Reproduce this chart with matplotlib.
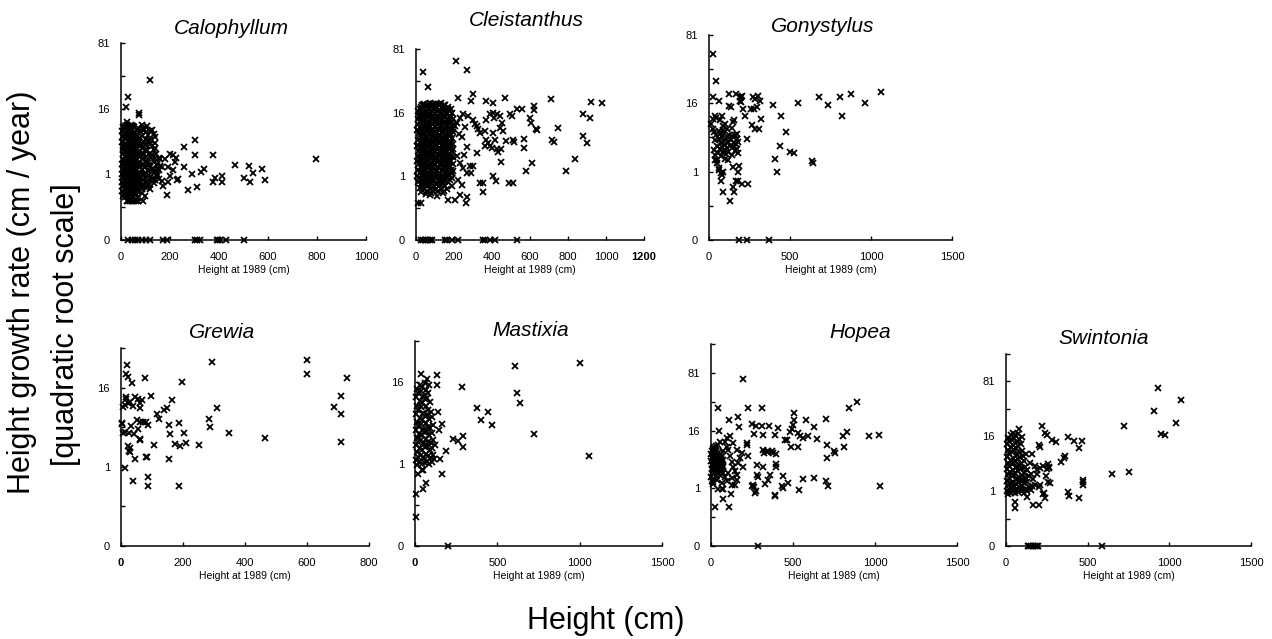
import numpy as np
import matplotlib
matplotlib.use("Agg")
import matplotlib.pyplot as plt

plt.rcParams['font.family'] = ['Liberation Sans', 'DejaVu Sans']

# ---------------- data: (height at 1989 [cm], height growth rate [cm/year]) ----------------
calophyllum = [
    (118, 35), (30, 22.5), (20, 17), (23, 10.3), (74, 14), (75, 13),
    (91, 8.4), (125, 8.0), (135, 6.7), (140, 3.9), (160, 2.3), (160, 1.6), (173, 0.45), (187, 0.22),
    (193, 0.6), (200, 2.9), (214, 2.8), (220, 2.0), (226, 2.4), (234, 0.75), (228, 0.7), (259, 4.0),
    (259, 1.5), (289, 1.0), (302, 5.3), (300, 2.86), (310, 0.43), (275, 0.33), (325, 1.12), (340, 1.36),
    (375, 2.86), (375, 0.6), (385, 0.78), (414, 0.92), (414, 0.6), (466, 1.7), (500, 0.78), (524, 1.63),
    (527, 0.6), (540, 1.08), (575, 1.36), (588, 0.69), (797, 2.29),
    (78, 5.8), (84, 4.3), (98, 3.5), (112, 5.1), (125, 2.8), (110, 1.9), (146, 1.8), (153, 1.36),
    (166, 1.5), (146, 1.0), (125, 0.75), (105, 0.45), (118, 0.35), (84, 0.27), (98, 0.2), (71, 0.16),
    (180, 2.37), (193, 1.5), (214, 1.26), (200, 0.92), (166, 0.66),
    (23, 0.12), (30, 0.12), (37, 0.12), (45, 0.12), (52, 0.12), (62, 0.12), (70, 0.12), (91, 0.12),
    (5, 0.3), (4, 0.6), (6, 1.0), (5, 1.8), (7, 3.0), (5, 5.0), (6, 7.5),
    (9, 0.2), (10, 0.45), (8, 0.8), (9, 1.3), (11, 2.2), (9, 3.6), (10, 6.0), (8, 8.8),
    (13, 0.25), (14, 0.5), (12, 0.9), (13, 1.5), (15, 2.5), (13, 4.2), (12, 6.8),
    (17, 0.18), (18, 0.35), (16, 0.7), (17, 1.1), (19, 1.9), (17, 3.2), (16, 5.5), (18, 9.0),
    (21, 0.3), (22, 0.6), (20, 1.0), (21, 1.7), (23, 2.8), (21, 4.6), (22, 7.8),
    (25, 0.2), (26, 0.42), (24, 0.8), (25, 1.3), (27, 2.1), (25, 3.5), (24, 6.2), (26, 9.3),
    (30, 0.28), (31, 0.55), (29, 0.95), (30, 1.6), (32, 2.6), (30, 4.3), (29, 7.0),
    (34, 0.19), (35, 0.4), (33, 0.75), (34, 1.2), (36, 2.0), (34, 3.3), (33, 5.4), (35, 8.6),
    (38, 0.3), (39, 0.6), (37, 1.05), (38, 1.8), (40, 3.0), (38, 4.9), (37, 7.6),
    (42, 0.22), (43, 0.45), (41, 0.85), (42, 1.4), (44, 2.3), (42, 3.8), (41, 6.3), (43, 9.2),
    (46, 0.32), (47, 0.65), (45, 1.1), (46, 1.9), (48, 3.1), (46, 5.2), (45, 8.0),
    (50, 0.2), (51, 0.5), (49, 0.9), (50, 1.5), (52, 2.5), (50, 4.1), (49, 6.7),
    (55, 0.35), (56, 0.7), (54, 1.2), (55, 2.0), (57, 3.4), (55, 5.6), (54, 8.9),
    (60, 0.25), (61, 0.55), (59, 1.0), (60, 1.7), (62, 2.8), (60, 4.6), (59, 7.2),
    (65, 0.4), (66, 0.8), (64, 1.3), (65, 2.2), (67, 3.7), (65, 6.0),
    (70, 0.3), (71, 0.65), (69, 1.1), (70, 1.9), (72, 3.2), (70, 5.3), (69, 8.4),
    (78, 0.45), (79, 0.9), (77, 1.6), (78, 2.7), (80, 4.5), (78, 7.5),
    (85, 0.35), (86, 0.7), (84, 1.3), (85, 2.3), (87, 3.9), (85, 6.4), (84, 9.5),
    (92, 0.5), (93, 1.0), (91, 1.8), (92, 3.0), (94, 5.0), (92, 8.0),
    (100, 0.4), (101, 0.8), (99, 1.5), (100, 2.6), (102, 4.4), (100, 7.2),
    (108, 0.6), (109, 1.2), (107, 2.1), (108, 3.6), (110, 6.5), (108, 9.0),
    (115, 0.5), (116, 0.95), (114, 1.7), (115, 3.0), (117, 5.3),
    (125, 0.7), (126, 1.4), (124, 2.5), (125, 4.2),
    (135, 0.55), (136, 1.1), (134, 2.0), (135, 3.5), (137, 6.0),
    (145, 0.9), (146, 1.7), (144, 3.0),
    (155, 0.75), (156, 1.3), (154, 2.4),
    (7, 0.45), (7, 1.35), (7, 2.3), (7, 4.0), (7, 6.2),
    (15, 0.35), (15, 0.65), (15, 1.2), (15, 2.0), (15, 3.4), (15, 5.8), (15, 8.5),
    (23, 0.26), (23, 0.48), (23, 0.85), (23, 1.4), (23, 2.4), (23, 3.9), (23, 6.5), (23, 9.4),
    (32, 0.35), (32, 0.7), (32, 1.25), (32, 2.1), (32, 3.6), (32, 5.9), (32, 8.9),
    (40, 0.25), (40, 0.5), (40, 0.9), (40, 1.5), (40, 2.5), (40, 4.2), (40, 6.8), (40, 9.4),
    (48, 0.4), (48, 0.75), (48, 1.3), (48, 2.2), (48, 3.6), (48, 5.9), (48, 9.0),
    (57, 0.28), (57, 0.55), (57, 0.95), (57, 1.6), (57, 2.6), (57, 4.3), (57, 7.0),
    (67, 0.3), (67, 0.6), (67, 1.0), (67, 1.7), (67, 2.9), (67, 4.8), (67, 7.8),
    (75, 0.55), (75, 1.0), (75, 1.8), (75, 3.0), (75, 5.0),
    (88, 0.5), (88, 0.95), (88, 1.7), (88, 2.9), (88, 4.9), (88, 7.8),
    (104, 0.6), (104, 1.1), (104, 2.0), (104, 3.4), (104, 5.6),
    (120, 0.8), (120, 1.5), (120, 2.6), (120, 4.5), (120, 7.5),
    (140, 0.7), (140, 1.3), (140, 2.4), (140, 4.7),
]
calophyllum_zero = [30, 44, 57, 71, 84, 104, 119, 173, 189, 302, 311, 322, 390, 397, 403, 428, 500]

cleistanthus = [
    (210, 62), (35, 49), (266, 51), (61, 33), (301, 28), (219, 24.6), (289, 22.7), (371, 22.7),
    (403, 21.7), (471, 25), (709, 24), (923, 22), (979, 21.3), (622, 19.6), (622, 17.3), (559, 17.7),
    (529, 17.7), (497, 15.1), (599, 13.6), (606, 11.5), (634, 9.2), (637, 9.0), (748, 9.6), (879, 15.1),
    (914, 13.6), (877, 7.1), (898, 5.5), (718, 6.2), (727, 5.7), (569, 6.4), (569, 4.4), (511, 6.2),
    (515, 5.6), (476, 5.8), (445, 4.1), (447, 2.3), (490, 0.66), (511, 0.66), (420, 0.75), (403, 1.04),
    (354, 0.63), (354, 0.33), (581, 1.4), (613, 2.1), (792, 1.36), (835, 2.6), (503, 14.2),
    (12, 0.12), (26, 0.12),
    (310, 11), (319, 10.3), (327, 9.2), (336, 8), (298, 12.8), (275, 14.5), (249, 15.1), (231, 13.6),
    (214, 11.5), (205, 10.3), (196, 9.2), (179, 5.5), (196, 4.1), (214, 3.0), (231, 2.14), (249, 1.63),
    (266, 1.22), (284, 1.8), (187, 1.22), (222, 0.81), (240, 0.57), (266, 0.21), (231, 0.25), (205, 0.16),
    (187, 0.5), (170, 0.16), (263, 0.12), (363, 8.5), (371, 6.2), (380, 5.5), (389, 4.7), (398, 4.4),
    (406, 8), (415, 6.2), (424, 4.1), (433, 3.7), (363, 4.7), (371, 12.8), (389, 15.1), (403, 16),
    (412, 13.6), (424, 15.1), (441, 14.5), (450, 11.5), (441, 9.6), (459, 8.5), (301, 1.8), (319, 3.5),
    (336, 0.63), (292, 1.22), (240, 6.8), (258, 9.8), (225, 7.7), (270, 4.6), (250, 3.2),
    (5, 1.0), (5, 2.4), (6, 4.8), (4, 9.0),
    (12, 0.7), (13, 1.5), (11, 3.0), (12, 6.0), (13, 11), (12, 17),
    (20, 0.45), (21, 1.2), (19, 2.5), (20, 4.4), (22, 7.4), (20, 12), (21, 18),
    (28, 0.32), (29, 0.8), (27, 1.75), (28, 3.3), (30, 5.8), (28, 9.4), (27, 14.5), (29, 20),
    (35, 0.5), (36, 1.2), (34, 2.4), (35, 4.4), (37, 7.4), (35, 11.7), (34, 17.7),
    (42, 0.4), (43, 1.0), (41, 2.1), (42, 3.9), (44, 6.5), (42, 10.5), (41, 16), (43, 21),
    (50, 0.28), (51, 0.66), (49, 1.46), (50, 2.86), (52, 5.06), (50, 8.35), (49, 13), (51, 19),
    (58, 0.35), (59, 0.85), (57, 1.8), (58, 3.4), (60, 5.9), (58, 9.6), (57, 14.8), (59, 20.5),
    (65, 0.55), (66, 1.25), (64, 2.5), (65, 4.5), (67, 7.6), (65, 12), (64, 18),
    (72, 0.25), (73, 0.42), (71, 1.05), (72, 2.15), (74, 4.0), (72, 6.6), (71, 10.8), (73, 16.5), (72, 21.5),
    (80, 0.3), (81, 0.68), (79, 1.5), (80, 2.9), (82, 5.1), (80, 8.5), (79, 13.3), (81, 19.5),
    (88, 0.36), (89, 0.83), (87, 1.78), (88, 3.35), (90, 5.8), (88, 9.4), (87, 14.6), (89, 20.2),
    (95, 0.5), (96, 1.2), (94, 2.45), (95, 4.45), (97, 7.45), (95, 11.8), (94, 17.8),
    (102, 0.38), (103, 1.0), (101, 2.05), (102, 3.85), (104, 6.45), (102, 10.4), (101, 15.8), (103, 21),
    (110, 0.22), (111, 0.62), (109, 1.42), (110, 2.8), (112, 5.0), (110, 8.3), (109, 12.9), (111, 19),
    (118, 0.34), (119, 0.8), (117, 1.72), (118, 3.3), (120, 5.75), (118, 9.3), (117, 14.4), (119, 20),
    (125, 0.55), (126, 1.24), (124, 2.46), (125, 4.4), (127, 7.4), (125, 11.6), (124, 17.6),
    (132, 0.42), (133, 1.02), (131, 2.1), (132, 3.92), (134, 6.52), (132, 10.5), (131, 16.1), (133, 21.2),
    (140, 0.3), (141, 0.68), (139, 1.48), (140, 2.88), (142, 5.1), (140, 8.4), (139, 13.1), (141, 19.2),
    (148, 0.36), (149, 0.82), (147, 1.76), (148, 3.34), (150, 5.8), (148, 9.4), (147, 14.5), (149, 20),
    (155, 0.52), (156, 1.22), (154, 2.44), (155, 4.42), (157, 7.41), (155, 11.7), (154, 17.7),
    (162, 0.4), (163, 1.0), (161, 2.1), (162, 3.9), (164, 6.5), (162, 10.5), (161, 16),
    (170, 0.7), (171, 1.5), (169, 2.9), (170, 5.1), (172, 8.4), (170, 13.1), (169, 19),
    (178, 0.8), (179, 1.8), (177, 3.3), (178, 5.8), (180, 9.4), (178, 14.5),
    (185, 1.2), (186, 2.4), (184, 4.4), (185, 7.4), (187, 11.7), (185, 17.7),
    (192, 0.9), (193, 2.0), (191, 3.9), (192, 6.5), (194, 10.5), (192, 16),
    (8, 1.46), (8, 5.06), (8, 13),
    (16, 0.9), (16, 2.0), (16, 3.9), (16, 8.0), (16, 14.5),
    (24, 0.6), (24, 1.4), (24, 2.86), (24, 5.1), (24, 8.6), (24, 13.3), (24, 19),
    (32, 1.0), (32, 2.0), (32, 3.8), (32, 6.6), (32, 10.8), (32, 16.5),
    (39, 0.65), (39, 1.5), (39, 2.9), (39, 5.2), (39, 8.4), (39, 13), (39, 20.5),
    (46, 0.9), (46, 1.85), (46, 3.5), (46, 6.0), (46, 9.8), (46, 15),
    (54, 1.1), (54, 2.2), (54, 4.1), (54, 7.0), (54, 11.2), (54, 17),
    (62, 0.7), (62, 1.6), (62, 3.1), (62, 5.4), (62, 8.9), (62, 13.8), (62, 21),
    (69, 0.95), (69, 1.95), (69, 3.6), (69, 6.2), (69, 10), (69, 15.5),
    (76, 0.55), (76, 1.35), (76, 2.7), (76, 4.8), (76, 7.9), (76, 12.4), (76, 18.5),
    (84, 1.05), (84, 2.1), (84, 3.95), (84, 6.8), (84, 10.9), (84, 16.8),
    (91, 0.72), (91, 1.6), (91, 3.1), (91, 5.4), (91, 8.9), (91, 13.8), (91, 20.8),
    (98, 0.95), (98, 1.9), (98, 3.6), (98, 6.1), (98, 10), (98, 15.3),
    (106, 0.6), (106, 1.3), (106, 2.6), (106, 4.7), (106, 7.8), (106, 12.2), (106, 18.3),
    (114, 1.1), (114, 2.2), (114, 4.1), (114, 7.0), (114, 11.1), (114, 17),
    (121, 0.7), (121, 1.6), (121, 3.1), (121, 5.4), (121, 8.8), (121, 13.7), (121, 20.6),
    (128, 0.95), (128, 1.95), (128, 3.7), (128, 6.3), (128, 10.1), (128, 15.4),
    (136, 0.58), (136, 1.35), (136, 2.65), (136, 4.75), (136, 7.9), (136, 12.3), (136, 18.5),
    (144, 1.05), (144, 2.1), (144, 4.0), (144, 6.8), (144, 10.9), (144, 16.6),
    (151, 0.72), (151, 1.6), (151, 3.1), (151, 5.4), (151, 8.9), (151, 13.8), (151, 20),
    (158, 0.95), (158, 1.9), (158, 3.6), (158, 6.2), (158, 10), (158, 15.2),
    (166, 1.2), (166, 2.5), (166, 4.6), (166, 7.7), (166, 12.1), (166, 18),
    (174, 1.1), (174, 2.2), (174, 4.1), (174, 7.0), (174, 11.2), (174, 17),
    (182, 1.5), (182, 3.1), (182, 5.4), (182, 8.9), (182, 13.8),
    (196, 1.4), (196, 2.9), (196, 5.2), (196, 8.4), (196, 13),
]
cleistanthus_zero = [26, 35, 45, 55, 65, 75, 82, 152, 165, 187, 222, 354, 365, 389, 415, 529]

gonystylus = [
    (23, 55), (43, 29), (27, 19), (64, 17.3), (10, 8.4), (23, 9.8), (37, 11), (43, 10.3), (27, 6.9),
    (30, 6.2), (68, 9.4), (78, 11), (99, 8.2), (88, 7.8), (125, 21), (125, 14.8), (133, 14.2), (154, 9.4),
    (146, 9.0), (166, 21), (191, 19.4), (197, 19), (201, 19.6), (191, 17), (196, 16.5), (222, 11),
    (234, 4.7), (212, 13.6), (257, 13.6), (273, 19.4), (283, 18), (294, 14.2), (279, 13.6), (304, 19.6),
    (314, 17), (263, 8), (283, 6.9), (308, 6.9), (320, 9.8), (392, 15.1), (444, 11), (474, 6.2),
    (438, 3.6), (407, 1.94), (499, 2.7), (524, 2.6), (547, 16), (637, 1.8), (639, 1.63), (680, 19.4),
    (736, 15.4), (808, 19.4), (818, 10.7), (875, 20.6), (962, 16.3), (1064, 22.2), (417, 1.0),
    (37, 1.87), (47, 1.6), (64, 1.26), (74, 0.92), (88, 0.97), (74, 0.57), (88, 0.24), (129, 0.11),
    (154, 0.25), (146, 0.35), (164, 0.57), (177, 0.55), (201, 0.45), (187, 1.4), (177, 0.96), (238, 0.45),
    (150, 1.3), (60, 1.1), (80, 0.8),
    (30, 3.0), (35, 4.5), (40, 2.4), (45, 5.5), (50, 3.6), (55, 2.6), (60, 4.8), (65, 3.2), (70, 5.8),
    (72, 2.3), (75, 4.0), (80, 3.4), (82, 5.2), (85, 2.7), (90, 4.4), (92, 3.0), (95, 6.0), (100, 3.8),
    (102, 2.5), (105, 5.0), (110, 3.3), (115, 4.2), (120, 2.8), (125, 5.6), (130, 3.6), (135, 4.6),
    (140, 2.4), (145, 5.3), (150, 3.5), (155, 4.1), (158, 2.9), (160, 5.5), (165, 3.9), (170, 4.7),
    (172, 3.1), (175, 5.8), (180, 4.3), (178, 2.6), (62, 6.5), (88, 6.8), (110, 7.0), (140, 7.2),
    (52, 1.9), (115, 1.9), (98, 2.0),
]
gonystylus_zero = [185, 232, 370]

grewia = [
    (18, 27), (15, 22), (24, 20.5), (34, 18), (77, 20.3), (196, 18.4), (295, 29.4), (599, 30.4),
    (599, 22), (728, 20.3), (709, 13), (687, 9.6), (709, 7.6), (709, 2.94), (465, 3.5), (349, 4.2),
    (309, 9.2), (284, 6.7), (287, 5.06), (253, 2.6), (210, 2.9), (189, 2.5), (174, 2.8), (204, 4.2),
    (186, 5.9), (158, 3.96), (154, 5.4), (163, 11.7), (147, 9.2), (139, 8.8), (123, 6.7), (115, 7.8),
    (96, 12.8), (106, 2.6), (155, 1.45), (187, 0.34), (88, 0.58), (88, 0.34), (38, 0.45), (13, 0.92),
    (45, 1.46), (80, 1.63), (83, 1.63), (27, 2.1), (29, 2.0), (24, 2.5), (61, 3.2), (43, 3.96),
    (26, 4.2), (13, 4.3), (2, 5.9), (2, 5.6), (5, 4.2), (31, 5.2), (56, 4.7), (61, 6.1), (72, 6.1),
    (80, 6.1), (86, 5.5), (53, 6.4), (40, 9.8), (24, 10.5), (29, 10.8), (16, 12), (16, 12.5), (5, 9.4),
    (45, 12.5), (56, 12), (61, 10.5), (61, 9.2), (69, 11.7), (13, 10), (30, 2.3), (62, 3.3),
]
grewia_zero = []

mastixia = [
    (1001, 24.7), (610, 23.4), (617, 12), (637, 9.2), (283, 14.2), (374, 8.1), (445, 7.2), (400, 5.6),
    (469, 4.8), (724, 3.5), (1057, 1.47), (228, 2.94), (263, 2.7), (289, 3.2), (289, 2.16), (188, 1.8),
    (152, 1.27), (166, 0.6), (141, 7.2), (162, 4.95), (146, 3.96), (131, 14.7), (135, 18.7), (34, 19.2),
    (75, 17.3), (4, 0.16), (4, 0.015), (51, 0.23), (67, 0.34), (16, 0.6), (40, 0.72), (51, 0.72),
    (5, 1.2), (6, 2.3), (4, 4.0), (5, 6.8), (6, 11),
    (12, 0.95), (13, 1.7), (11, 3.0), (12, 5.2), (13, 8.6), (12, 13.5),
    (20, 1.4), (21, 2.6), (19, 4.6), (20, 7.5), (21, 12),
    (28, 1.1), (29, 2.0), (27, 3.5), (28, 6.0), (29, 9.8), (28, 15),
    (35, 1.5), (36, 2.8), (34, 4.9), (35, 8.2), (36, 12.8),
    (42, 1.0), (43, 1.9), (41, 3.3), (42, 5.6), (43, 9.2), (42, 14),
    (50, 1.3), (51, 2.4), (49, 4.2), (50, 7.0), (51, 11.3),
    (58, 1.05), (59, 2.1), (57, 3.7), (58, 6.3), (59, 10.2), (58, 15.5),
    (65, 1.6), (66, 2.9), (64, 5.0), (65, 8.4), (66, 13),
    (72, 1.15), (73, 2.2), (71, 3.9), (72, 6.6), (73, 10.7),
    (80, 1.45), (81, 2.6), (79, 4.5), (80, 7.6), (81, 12.2),
    (88, 1.0), (89, 1.9), (87, 3.4), (88, 5.8), (89, 9.5), (88, 14.8),
    (95, 1.3), (96, 2.5), (94, 4.3), (95, 7.2),
    (102, 1.1), (103, 2.0), (101, 3.6), (102, 6.1),
    (110, 1.5), (111, 2.8), (109, 4.8),
    (118, 1.25), (119, 2.3),
]
mastixia_zero = [198]

hopea = [
    (193, 70.7), (45, 33), (224, 33), (309, 33), (112, 22.6), (167, 25.2), (171, 18), (49, 16),
    (248, 20.2), (275, 18.7), (313, 18.4), (356, 18.4), (407, 17.3), (263, 14.2), (320, 13.6), (391, 13.6),
    (509, 28), (509, 22.6), (503, 19.4), (493, 17), (479, 15.4), (580, 22.6), (625, 18), (589, 13.3),
    (533, 14.7), (540, 13.3), (560, 12.2), (533, 8.7), (452, 11.5), (462, 11.2), (486, 8.7), (649, 11.7),
    (702, 23.4), (706, 9.2), (710, 5.4), (757, 6.7), (753, 7.4), (812, 8.5), (802, 13.3), (832, 15),
    (843, 33), (890, 39), (961, 13), (1025, 13.6), (1028, 1.13), (702, 1.57), (716, 1.13), (629, 1.96),
    (558, 1.8), (538, 0.89), (468, 1.46), (431, 1.13), (437, 1.04), (391, 0.6), (393, 0.57), (442, 2.2),
    (397, 3.6), (397, 4.1), (397, 6.5), (380, 6.7), (370, 7.4), (350, 7.4), (340, 6.9), (320, 7.8),
    (326, 6.6), (360, 2.3), (350, 1.7), (330, 1.3), (315, 3.6), (289, 2.1), (283, 3.8), (263, 1.1),
    (259, 1.26), (269, 0.72), (275, 0.8), (248, 1.17), (279, 2.3), (218, 9.4), (218, 10.2), (228, 5.8),
    (85, 10.7), (96, 8.8), (106, 7.6), (116, 5.8), (126, 4.5), (137, 3.6), (147, 2.8), (157, 2.3),
    (167, 4.2), (177, 5.3), (187, 6.7), (197, 3.6), (157, 7.6), (137, 10), (116, 13), (100, 12.2),
    (55, 10.7), (45, 9.4), (75, 7.2), (65, 4.9), (75, 3.6), (106, 2.5), (126, 1.9), (96, 1.57),
    (65, 1.4), (35, 1.7), (85, 2.07), (157, 1.7),
    (24, 0.21), (112, 0.21), (75, 0.43), (122, 0.66), (45, 0.92), (65, 0.92), (75, 0.92), (130, 1.26),
    (146, 1.26),
    (3, 2.0), (4, 3.2), (2, 4.6), (3, 6.4),
    (8, 2.6), (9, 3.8), (7, 5.3), (8, 7.2),
    (13, 1.8), (14, 3.0), (12, 4.2), (13, 5.8), (14, 8.0),
    (18, 2.4), (19, 3.5), (17, 4.9), (18, 6.8),
    (23, 2.9), (24, 4.0), (22, 5.5), (23, 7.6),
    (28, 2.2), (29, 3.3), (27, 4.5), (28, 6.2),
    (33, 2.7), (34, 3.9), (32, 5.1), (33, 7.0),
    (38, 3.1), (39, 4.4), (37, 6.0),
    (44, 2.5), (45, 3.6), (43, 4.8), (44, 6.6),
    (50, 3.0), (51, 4.1), (49, 5.6),
    (56, 2.3), (57, 3.4), (55, 4.7), (56, 6.3),
    (62, 2.8), (63, 4.0), (61, 5.3),
    (68, 3.2), (69, 4.4), (67, 6.0),
    (75, 2.6), (76, 3.7), (74, 5.0),
    (5, 1.6), (10, 1.3), (15, 1.5), (20, 8.6), (30, 9.0),
]
hopea_zero = [285]

swintonia = [
    (933, 69), (1071, 50), (908, 37), (1039, 25), (951, 17.6), (973, 16.6), (722, 22.6), (751, 3.4),
    (647, 3.0), (473, 2.1), (473, 1.8), (473, 1.57), (447, 0.57), (382, 0.92), (386, 0.69), (447, 10.2),
    (418, 13.3), (463, 13.3), (382, 15.4), (361, 7.4), (355, 6.5), (337, 5.4), (304, 13), (280, 14.2),
    (239, 18), (249, 17), (218, 22.6), (204, 11.7), (208, 10.5), (161, 8), (192, 3.6), (208, 4.1),
    (229, 4.5), (259, 5.0), (265, 4.0), (249, 3.95), (245, 2.6), (269, 1.75), (255, 1.8), (261, 4.2),
    (224, 0.81), (239, 0.57), (233, 0.9), (208, 1.5), (204, 1.3), (157, 1.46), (178, 1.5), (167, 0.32),
    (204, 0.32), (192, 2.9), (127, 0.66), (55, 0.43), (55, 0.23),
    (5, 1.0), (6, 2.0), (4, 3.8), (5, 7.0), (6, 12),
    (12, 0.8), (13, 1.5), (11, 2.9), (12, 5.3), (13, 9.2), (12, 15),
    (20, 1.2), (21, 2.4), (19, 4.5), (20, 8.2), (21, 13.5),
    (28, 0.9), (29, 1.7), (27, 3.3), (28, 6.0), (29, 10.5), (28, 17),
    (35, 1.3), (36, 2.6), (34, 4.9), (35, 8.8), (36, 14),
    (42, 1.0), (43, 1.9), (41, 3.6), (42, 6.6), (43, 11.5), (42, 18),
    (50, 1.4), (51, 2.8), (49, 5.2), (50, 9.4), (51, 15),
    (58, 0.85), (59, 1.6), (57, 3.1), (58, 5.7), (59, 10), (58, 16.5),
    (65, 1.15), (66, 2.2), (64, 4.2), (65, 7.6), (66, 13),
    (72, 0.95), (73, 1.8), (71, 3.5), (72, 6.3), (73, 11), (72, 17.5),
    (80, 1.3), (81, 2.5), (79, 4.7), (80, 8.5), (81, 14.5), (80, 21),
    (88, 1.05), (89, 2.0), (87, 3.8), (88, 6.9), (89, 12),
    (95, 1.4), (96, 2.7), (94, 5.0), (95, 9.0), (96, 15.5),
    (102, 1.1), (103, 2.1), (101, 4.0), (102, 7.3),
    (110, 0.9), (111, 1.7), (109, 3.2), (110, 5.9),
    (120, 1.2), (121, 2.3), (119, 4.4), (120, 8.0),
    (130, 1.0), (131, 1.9), (129, 3.6),
    (140, 1.3), (141, 2.6), (145, 5.2),
    (150, 1.1), (151, 3.0), (165, 2.2), (175, 4.5),
]
swintonia_zero = [133, 143, 155, 165, 178, 190, 198, 590]

species = ["Calophyllum", "Cleistanthus", "Gonystylus", "Grewia", "Mastixia", "Hopea", "Swintonia"]
x_max = [1000, 1200, 1500, 800, 1500, 1500, 1500]
x_step = [200, 200, 500, 200, 500, 500, 500]
y_top = [81, 81, 81, 39.0625, 39.0625, 150.0625, 150.0625]
y_major = [0, 1, 16, 81]
y_major_labels = ["0", "1", "16", "81"]
y_minor = [0.0625, 5.0625, 39.0625, 150.0625]
all_points = [calophyllum, cleistanthus, gonystylus, grewia, mastixia, hopea, swintonia]
all_zeros = [calophyllum_zero, cleistanthus_zero, gonystylus_zero, grewia_zero,
             mastixia_zero, hopea_zero, swintonia_zero]

# ---------------- layout (pixel boxes: left, top, right, bottom) ----------------
W, H = 1272, 639
boxes = [(121, 43, 366, 240), (416, 49, 644, 240), (709, 35, 952, 240),
         (121, 348, 369, 546), (415, 341, 662, 546), (711, 344, 957, 546), (1006, 354, 1251, 546)]
title_pos = [(231, 29), (526, 20), (823, 27), (222, 333), (531, 330), (860, 333), (1104, 338)]
bold_xlabels = {1: [1200], 3: [0], 4: [0]}

fig = plt.figure(figsize=(W / 100, H / 100), dpi=100)


def fwd(y):
    return np.power(np.clip(y, 0, None), 0.25)


def inv(t):
    return np.power(np.clip(t, 0, None), 4)


for i, name in enumerate(species):
    l, t, r, b = boxes[i]
    ax = fig.add_axes([l / W, 1 - b / H, (r - l) / W, (b - t) / H])
    ax.set_yscale('function', functions=(fwd, inv))
    pts = all_points[i]
    xs = [p[0] for p in pts]
    ys = [p[1] for p in pts]
    ax.plot(xs, ys, 'x', color='black', ms=4.2, mew=1.3, clip_on=False, zorder=3)
    zs = all_zeros[i]
    if zs:
        ax.plot(zs, [0] * len(zs), 'x', color='black', ms=4.2, mew=1.3, clip_on=False, zorder=3)
    ax.set_xlim(0, x_max[i])
    ax.set_ylim(0, y_top[i])
    xt = list(range(0, x_max[i] + 1, x_step[i]))
    ax.set_xticks(xt)
    ax.set_xticklabels([str(v) for v in xt])
    for lab, v in zip(ax.get_xticklabels(), xt):
        if v in bold_xlabels.get(i, []):
            lab.set_fontweight('bold')
    maj = [v for v in y_major if v <= y_top[i] + 1e-9]
    ax.set_yticks(maj)
    ax.set_yticklabels(y_major_labels[:len(maj)])
    ax.set_yticks([v for v in y_minor if v <= y_top[i] + 1e-9], minor=True)
    ax.tick_params(axis='both', which='both', direction='in', length=3, width=1, colors='black')
    ax.tick_params(axis='x', labelsize=8, pad=9)
    ax.tick_params(axis='y', labelsize=8, pad=8)
    for s in ['top', 'right']:
        ax.spines[s].set_visible(False)
    for s in ['left', 'bottom']:
        ax.spines[s].set_linewidth(1.1)
    ax.set_xlabel('Height at 1989 (cm)', fontsize=7.5, labelpad=2)
    ax.patch.set_alpha(0)
    tx, ty = title_pos[i]
    fig.text(tx / W, 1 - ty / H, name, style='italic', fontsize=15, ha='center', va='center')

fig.text(22 / W, 1 - 292 / H, 'Height growth rate (cm / year)', rotation=90, fontsize=22,
         ha='center', va='center')
fig.text(66 / W, 1 - 325 / H, '[quadratic root scale]', rotation=90, fontsize=22,
         ha='center', va='center')
fig.text(606 / W, 1 - 621 / H, 'Height (cm)', fontsize=22, ha='center', va='center')

fig.savefig('out.png', dpi=100)
